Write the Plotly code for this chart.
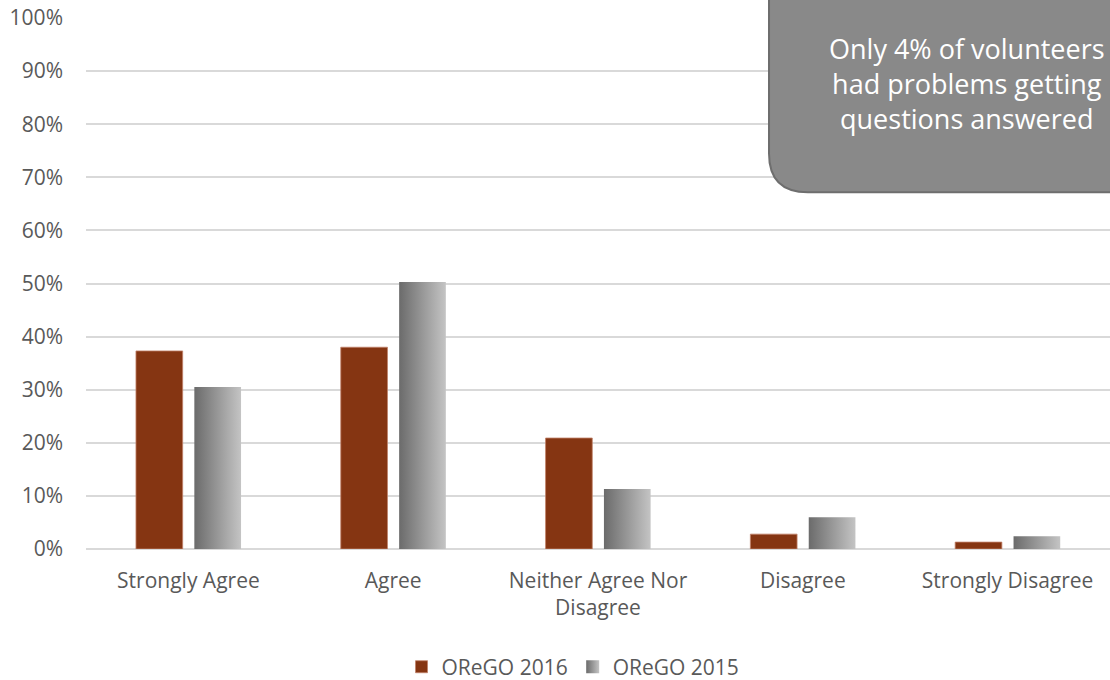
import plotly.graph_objects as go

categories = ["Strongly Agree", "Agree", "Neither Agree Nor<br>Disagree", "Disagree", "Strongly Disagree"]
orego_2016 = [37.3, 38.0, 20.9, 2.8, 1.3]
orego_2015 = [30.5, 50.3, 11.3, 6.0, 2.4]
y_ticks = list(range(0, 101, 10))
y_tick_labels = [f"{v}%" for v in y_ticks]

BAR_W = 0.228
OFF_2016 = -0.256
OFF_2015 = 0.029
BROWN = "#853512"
GRAY_DARK = "#6b6b6b"
GRAY_LIGHT = "#c4c4c4"
FONT = "Open Sans"
TXT = "#595959"
TICK_SIZE = 21

fig = go.Figure()

fig.add_trace(go.Bar(
    x=list(range(len(categories))), y=orego_2016, name="OReGO 2016",
    width=BAR_W, offset=OFF_2016,
    marker=dict(color=BROWN, line=dict(color="#c0826a", width=0.8)),
))

# 2015 bars: filled rectangles with a horizontal gray gradient
for i, v in enumerate(orego_2015):
    x0, x1 = i + OFF_2015, i + OFF_2015 + BAR_W
    fig.add_trace(go.Scatter(
        x=[x0, x1, x1, x0, x0], y=[0, 0, v, v, 0],
        mode="none", fill="toself",
        fillgradient=dict(type="horizontal",
                          colorscale=[[0, GRAY_DARK], [1, GRAY_LIGHT]]),
        name="OReGO 2015", legendgroup="2015", showlegend=False,
        hoverinfo="skip",
    ))

# legend swatch for the 2015 series (gradient square)
fig.add_trace(go.Scatter(
    x=[None], y=[None], mode="markers", name="OReGO 2015", legendgroup="2015",
    marker=dict(symbol="square", size=13, color=GRAY_DARK,
                gradient=dict(type="horizontal", color=GRAY_LIGHT)),
))

fig.update_layout(
    width=1110, height=680,
    margin=dict(l=86, r=0, t=18, b=131),
    plot_bgcolor="white", paper_bgcolor="white",
    font=dict(family=FONT, color=TXT, size=TICK_SIZE),
    showlegend=True,
    legend=dict(orientation="h", x=0.4756, xanchor="center",
                yref="container", y=0.019, yanchor="middle",
                font=dict(size=TICK_SIZE, color=TXT), itemwidth=30, traceorder="normal"),
    xaxis=dict(
        range=[-0.5, 4.5], tickmode="array", tickvals=list(range(len(categories))),
        ticktext=categories, showgrid=False, zeroline=False, showline=False,
        ticks="", tickfont=dict(size=TICK_SIZE, color=TXT), ticklabelstandoff=17,
        automargin=False,
    ),
    yaxis=dict(
        range=[0, 100], tickmode="array", tickvals=y_ticks, ticktext=y_tick_labels,
        showgrid=True, gridcolor="#d9d9d9", gridwidth=1.5,
        zeroline=True, zerolinecolor="#d9d9d9", zerolinewidth=1.5,
        showline=False, ticks="", tickfont=dict(size=TICK_SIZE, color=TXT),
        ticklabelstandoff=22, automargin=False,
    ),
)

# Callout box with rounded bottom-left corner, running off the top and right edges
x0, x1 = 0.667, 1.03
y0, y1 = 0.672, 1.06
rx, ry = 0.038, 0.073
path = (f"M {x0},{y1} L {x0},{y0 + ry} Q {x0},{y0} {x0 + rx},{y0} "
        f"L {x1},{y0} L {x1},{y1} Z")
fig.add_shape(type="path", path=path, xref="paper", yref="paper",
              fillcolor="#898989", line=dict(color="#6e6e6e", width=2), layer="above")

fig.add_annotation(
    x=0.8604, y=0.877, xref="paper", yref="paper", xanchor="center", yanchor="middle",
    text="Only 4% of volunteers<br>had problems getting<br>questions answered",
    showarrow=False, align="center",
    font=dict(family=FONT, size=27, color="white"),
)

fig.write_html("out.html")
